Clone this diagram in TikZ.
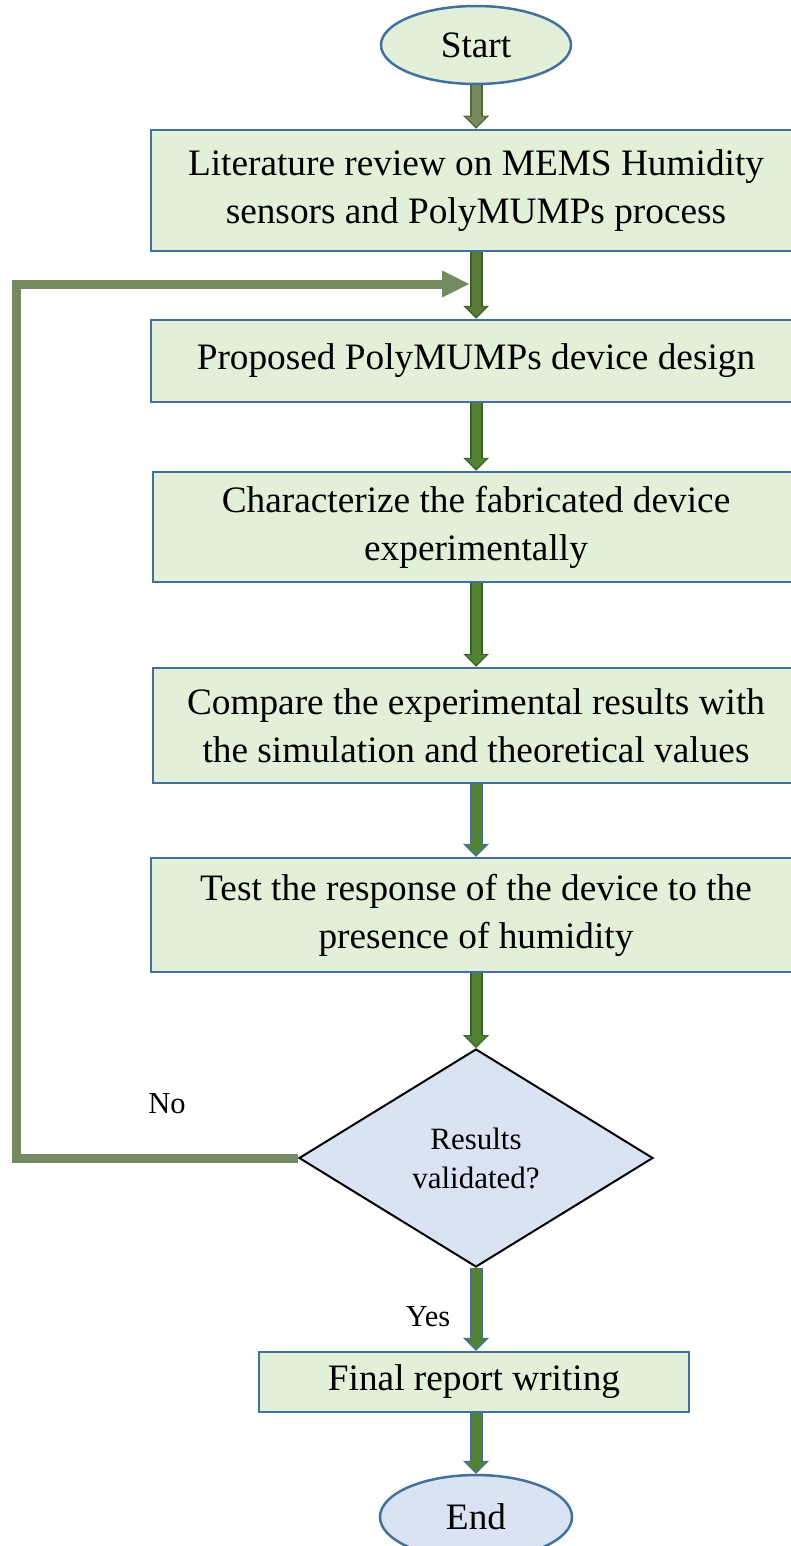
\documentclass[tikz,border=0pt]{standalone}
\usepackage{fontspec}
\setmainfont{Liberation Serif}
\usepackage{tikz}
\usetikzlibrary{shapes.geometric,arrows.meta}

\definecolor{boxfill}{HTML}{E2EFD9}
\definecolor{boxline}{HTML}{41719C}
\definecolor{endfill}{HTML}{DAE3F3}
\definecolor{loopgreen}{HTML}{768A62}
\definecolor{olivefill}{HTML}{76895E}
\definecolor{olivedark}{HTML}{4E6B30}
\definecolor{darkolive}{HTML}{587A38}
\definecolor{arrowgreen}{HTML}{548235}
\definecolor{arrowdark}{HTML}{3B6124}

\tikzset{
  procbox/.style={rectangle, draw=boxline, line width=2.5pt, fill=boxfill,
    inner sep=0pt, align=center, font=\fontsize{37.3}{48}\selectfont},
  termnode/.style={ellipse, draw=boxline, line width=2.5pt, inner sep=0pt,
    font=\fontsize{37.3}{48}\selectfont},
  decision/.style={diamond, draw=black, line width=2pt, fill=endfill,
    inner sep=0pt, align=center, font=\fontsize{31}{39}\selectfont},
  lbl/.style={inner sep=0pt, font=\fontsize{30.5}{36}\selectfont},
  blockarr/.style 2 args={
    preaction={draw=#2, line width=13pt, shorten >=0pt,
      -{Triangle[width=26pt,length=13pt,line width=0pt]}},
    draw=#1, line width=9pt, shorten >=2pt,
    -{Triangle[width=20pt,length=10pt,line width=0pt]}},
  loopline/.style={draw=loopgreen, line width=9pt, line join=miter,
    -{Triangle[width=27pt,length=27pt,line width=0pt]}},
}

\begin{document}
\begin{tikzpicture}[x=1pt,y=-1pt]
  \useasboundingbox (0,0) rectangle (791,1546);

  % steps
  \node[termnode, fill=boxfill, minimum width=190pt, minimum height=78pt] (start) at (476,45) {Start};
  \node[procbox, minimum width=650pt, minimum height=121pt] (lit) at (476,190.5)
    {Literature review on MEMS Humidity\\sensors and PolyMUMPs process};
  \node[procbox, minimum width=650pt, minimum height=82pt] (design) at (476,361)
    {Proposed PolyMUMPs device design};
  \node[procbox, minimum width=646pt, minimum height=110pt] (charac) at (476,527)
    {Characterize the fabricated device\\experimentally};
  \node[procbox, minimum width=646pt, minimum height=115pt] (compare) at (476,725.5)
    {Compare the experimental results with\\the simulation and theoretical values};
  \node[procbox, minimum width=650pt, minimum height=114pt] (test) at (476,915)
    {Test the response of the device to the\\presence of humidity};
  \node[decision, minimum width=354pt, minimum height=218pt] (valid) at (476,1158)
    {Results\\validated?};
  \node[procbox, minimum width=430pt, minimum height=60pt] (report) at (474,1382)
    {Final report writing};
  \node[termnode, fill=endfill, minimum width=192pt, minimum height=84pt] (end) at (476,1517) {End};

  % labels
  \node[lbl] (no) at (167,1104) {No};
  \node[lbl] (yes) at (428,1317) {Yes};

  % loop back
  \coordinate (merge) at (469,284);
  \draw[loopline] (valid.west) -- ++(-282,0) |- (merge);

  % arrows
  \draw[blockarr={olivefill}{olivedark}] (start.south) -- (lit.north);
  \draw[blockarr={darkolive}{arrowdark}] (lit.south) -- (design.north);
  \draw[blockarr={arrowgreen}{arrowdark}] (design.south) -- (charac.north);
  \draw[blockarr={arrowgreen}{arrowdark}] (charac.south) -- (compare.north);
  \draw[blockarr={arrowgreen}{boxline}] (compare.south) -- (test.north);
  \draw[blockarr={arrowgreen}{arrowdark}] (test.south) -- (valid.north);
  \draw[blockarr={arrowgreen}{boxline}] (valid.south) -- (report.north -| valid.south);
  \draw[blockarr={arrowgreen}{boxline}] (report.south -| end.north) -- (end.north);
\end{tikzpicture}
\end{document}
